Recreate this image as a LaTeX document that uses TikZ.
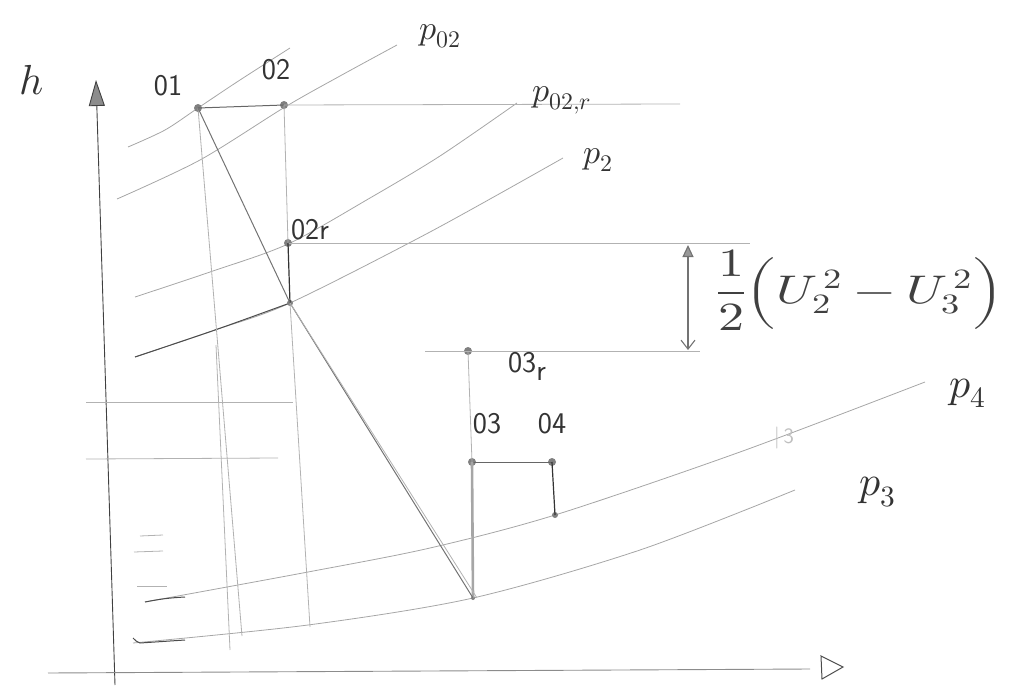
\documentclass[tikz,border=0pt]{standalone}
\usepackage{fontspec}
\usepackage{unicode-math}
\setmathfont{Latin Modern Math}
\usetikzlibrary{arrows.meta}
\begin{document}
\begin{tikzpicture}[x=1pt,y=-1pt,
  iso/.style={draw=black!35, line width=0.8pt},
  isodark/.style={draw=black!70, line width=1pt},
  pencil/.style={draw=black!60, line width=1pt},
  faint/.style={draw=black!30, line width=0.8pt},
  thickgray/.style={draw=black!35, line width=2.6pt},
  dot/.style={circle, fill=black!50, inner sep=0pt, minimum size=8pt},
  lbl/.style={text=black!80, inner sep=1pt, font=\fontsize{30}{32}\selectfont\sffamily},
  plbl/.style={text=black!80, inner sep=1pt, font=\fontsize{34}{36}\selectfont},
  biglbl/.style={text=black!80, inner sep=1pt, font=\fontsize{42}{44}\selectfont},
]
\useasboundingbox (0,0) rectangle (1013,688);

% axes
\coordinate (hbot) at (115,685);
\coordinate (htop) at (96,80);
\draw[black!75, line width=0.9pt, -{Triangle[length=26pt,width=16pt,fill=black!45]}] (hbot) -- (htop);
\coordinate (sleft) at (48,673);
\coordinate (sright) at (810,669);
\draw[black!45, line width=0.9pt] (sleft) -- (sright);
\draw[black!70, line width=1pt] (821,656) -- (843,667) -- (822,679) -- cycle;
\node[biglbl] (hl) at (32,80) {$h$};

% isobars
\draw[iso] plot[smooth] coordinates {(128,147) (165,130) (198,108) (240,80) (290,48)};
\draw[iso] plot[smooth] coordinates {(117,199) (200,160) (285,107) (340,76) (397,45)};
\draw[iso] plot[smooth] coordinates {(135,297) (210,272) (288,244) (370,198) (440,156) (517,103)};
\draw[iso] plot[smooth] coordinates {(135,357) (215,330) (290,303) (430,232) (563,158)};
\draw[isodark] plot[smooth] coordinates {(135,357) (215,330) (290,303)};
\draw[iso] plot[smooth] coordinates {(145,602) (308,572) (430,548) (555,515) (740,452) (925,382)};
\draw[isodark] (145,602) to[bend left=4] (185,597);
\draw[iso] plot[smooth] coordinates {(133,643) (308,625) (473,598) (640,550) (795,490)};
\draw[isodark] (133,638) to[bend right=15] (140,643) -- (185,640);

% points
\node[dot] (o1) at (198,108) {};
\node[dot] (o2) at (284,105) {};
\node[dot] (o2r) at (288,243) {};
\node[dot, minimum size=6pt] (s2) at (290,303) {};
\node[dot] (o3r) at (468,351) {};
\node[dot] (o3) at (472,462) {};
\node[dot] (o4) at (552,462) {};
\node[dot, minimum size=6pt] (s4) at (555,515) {};
\node[dot, minimum size=4pt] (s3) at (473,598) {};

% free ends
\coordinate (o2e) at (680,104);
\coordinate (o2re) at (750,243);
\coordinate (o3rs) at (425,351);
\coordinate (o3re) at (700,351);
\coordinate (v1a) at (242,636);
\coordinate (v1b0) at (216,345);
\coordinate (v1b) at (230,650);
\coordinate (v2e) at (310,627);
\coordinate (hl1a) at (86,402);
\coordinate (hl1b) at (293,402);
\coordinate (hl2a) at (86,459);
\coordinate (hl2b) at (278,458);

% horizontal lines
\draw[pencil] (o1.center) -- (o2.center);
\draw[faint] (o2.center) -- (o2e);
\draw[faint] (o2r.center) -- (o2re);
\draw[faint] (o3rs) -- (o3re);
\draw[pencil] (o3.center) -- (o4.center);
\draw[faint] (hl1a) -- (hl1b);
\draw[faint] (hl2a) -- (hl2b);

% vertical lines
\draw[faint] (o1.center) -- (v1a);
\draw[faint] (v1b0) -- (v1b);
\draw[faint] (o2.center) -- (o2r.center);
\draw[black!80, line width=1.2pt] (o2r.center) -- (s2.center);
\draw[faint] (s2.center) -- (v2e);
\draw[faint] (o3r.center) -- (o3.center);
\draw[thickgray] (o3.center) -- (s3.center);
\draw[black!80, line width=1.2pt] (o4.center) -- (s4.center);

% expansion line
\draw[pencil, black!55] (o1.center) -- (s2.center) -- (s3.center);
\draw[faint] (s2.center) -- ([xshift=4pt]s3.center);

% small tick dashes
\coordinate (d1a) at (140,536); \coordinate (d1b) at (163,535);
\coordinate (d2a) at (134,552); \coordinate (d2b) at (163,551);
\coordinate (d3a) at (137,586); \coordinate (d3b) at (167,586);
\draw[faint] (d1a) -- (d1b);
\draw[faint] (d2a) -- (d2b);
\draw[faint] (d3a) -- (d3b);

% kinetic difference arrow
\coordinate (at) at (688,245);
\coordinate (ab) at (688,350);
\draw[black!55, line width=1.1pt, {Triangle[length=12pt,width=11pt,fill=black!40]}-{Straight Barb[length=9pt,width=14pt]}] (at) -- (ab);

% labels
\node[lbl] (l01) at (168,86) {01};
\node[lbl] (l02) at (276,70) {02};
\node[lbl] (l02r) at (310,230) {02r};
\node[lbl] (l03r) at (527,366) {03\raisebox{-8pt}{r}};
\node[lbl] (l03) at (487,424) {03};
\node[lbl] (l04) at (552,424) {04};
\node[plbl] (lp02) at (440,36) {$p_{02}$};
\node[plbl] (lp02r) at (562,100) {$p_{02,r}$};
\node[plbl] (lp2) at (598,160) {$p_2$};
\node[biglbl] (lp4) at (968,393) {$p_4$};
\node[biglbl] (lp3) at (878,492) {$p_3$};
\node[text=black!25, font=\fontsize{22}{24}\selectfont\sffamily] (stray) at (784,438) {\textbar\,3};
\node[text=black!75, inner sep=0pt, font=\fontsize{40}{44}\selectfont] (form) at (860,290)
  {\scalebox{1.3}[1]{$\displaystyle\frac{1}{2}\Bigl(U_2^{\,2}-U_3^{\,2}\Bigr)$}};
\end{tikzpicture}
\end{document}
